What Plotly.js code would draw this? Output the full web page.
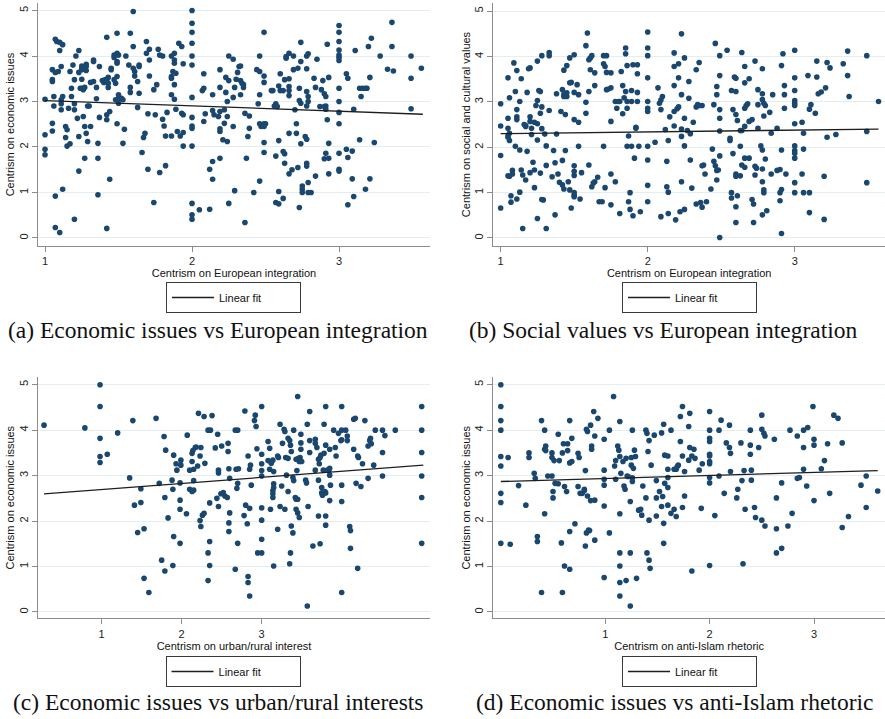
<!DOCTYPE html>
<html>
<head>
<meta charset="utf-8">
<script src="https://cdn.plot.ly/plotly-3.0.1.min.js"></script>
<style>
  html, body { margin: 0; padding: 0; background: #ffffff; }
  #chart { width: 885px; height: 719px; }
</style>
</head>
<body>
<div id="chart"></div>
<script>
// Tick values shared by the four panels
const yTickVals = [0, 1, 2, 3, 4, 5];
const xTickVals = [1, 2, 3];

// Axis titles and captions
const xTitles = [
  'Centrism on European integration',
  'Centrism on European integration',
  'Centrism on urban/rural interest',
  'Centrism on anti-Islam rhetoric'
];
const yTitles = [
  'Centrism on economic issues',
  'Centrism on social and cultural values',
  'Centrism on economic issues',
  'Centrism on economic issues'
];
const captions = [
  '(a) Economic issues vs European integration',
  '(b) Social values vs European integration',
  '(c) Economic issues vs urban/rural interests',
  '(d) Economic issues vs anti-Islam rhetoric'
];
const fitLabel = 'Linear fit';

// (a) economic issues (y) vs European integration (x)
const aPoints = [
  [1.00,3.05],[1.00,2.27],[1.00,1.95],[1.00,1.83],[1.05,3.44],[1.05,3.48],[1.05,2.52],[1.05,2.35],
  [1.05,3.70],[1.07,3.64],[1.06,3.11],[1.06,2.90],[1.07,0.92],[1.07,0.23],[1.10,0.12],[1.07,4.37],
  [1.08,4.32],[1.10,4.12],[1.10,4.30],[1.12,4.25],[1.11,3.77],[1.09,3.66],[1.11,3.04],[1.11,2.95],
  [1.11,2.82],[1.12,3.11],[1.12,1.07],[1.14,2.45],[1.15,2.38],[1.14,2.21],[1.15,2.02],[1.17,2.07],
  [1.17,3.66],[1.16,2.85],[1.18,3.11],[1.18,3.29],[1.19,3.80],[1.20,2.95],[1.20,2.82],[1.20,3.48],
  [1.20,0.41],[1.21,4.00],[1.23,4.12],[1.23,3.64],[1.22,2.63],[1.23,2.23],[1.23,1.47],[1.24,3.29],
  [1.25,3.29],[1.25,3.73],[1.25,3.49],[1.25,3.70],[1.25,3.78],[1.26,3.26],[1.27,3.31],[1.26,2.67],
  [1.27,2.45],[1.27,1.75],[1.28,2.30],[1.29,2.12],[1.28,3.77],[1.28,3.82],[1.28,3.68],[1.29,2.90],
  [1.30,2.90],[1.31,3.42],[1.31,2.45],[1.33,3.91],[1.33,3.88],[1.33,3.44],[1.35,3.06],[1.35,3.31],
  [1.36,2.08],[1.36,1.75],[1.36,0.95],[1.37,3.77],[1.37,2.65],[1.39,3.46],[1.40,3.42],[1.42,4.41],
  [1.42,2.71],[1.42,2.60],[1.42,0.21],[1.41,3.48],[1.42,3.44],[1.43,3.40],[1.43,3.31],[1.43,3.53],
  [1.45,3.73],[1.45,3.70],[1.44,2.78],[1.44,1.29],[1.47,4.02],[1.47,3.97],[1.47,3.48],[1.48,3.04],
  [1.48,3.40],[1.49,3.55],[1.49,4.06],[1.49,3.88],[1.49,3.84],[1.50,4.02],[1.49,4.50],[1.50,2.96],
  [1.49,2.51],[1.50,3.07],[1.50,3.15],[1.52,3.07],[1.53,3.04],[1.53,2.08],[1.54,2.39],[1.55,4.00],
  [1.57,3.80],[1.58,3.31],[1.58,4.50],[1.58,3.20],[1.60,4.98],[1.60,4.21],[1.60,3.73],[1.61,3.66],
  [1.61,3.56],[1.63,2.87],[1.63,3.44],[1.64,3.18],[1.64,3.80],[1.64,3.77],[1.66,1.88],[1.67,2.21],
  [1.68,2.30],[1.69,4.32],[1.69,4.06],[1.71,4.15],[1.71,3.91],[1.70,2.73],[1.70,1.51],[1.71,3.56],
  [1.74,3.26],[1.75,2.71],[1.76,3.37],[1.74,0.78],[1.77,4.15],[1.78,4.02],[1.80,4.00],[1.78,1.44],
  [1.80,2.61],[1.81,2.46],[1.82,2.24],[1.82,1.59],[1.83,2.76],[1.86,4.00],[1.86,3.55],[1.86,3.51],
  [1.87,3.66],[1.88,3.37],[1.86,3.15],[1.88,4.06],[1.88,3.91],[1.88,3.84],[1.89,3.62],[1.88,3.05],
  [1.86,2.24],[1.89,2.83],[1.90,2.34],[1.91,4.28],[1.92,2.24],[1.93,4.21],[1.93,2.74],[1.94,2.71],
  [1.94,2.32],[1.94,2.02],[1.94,3.83],
  [2.00,5.00],[2.00,4.72],[2.00,4.52],[2.00,4.28],[2.00,4.00],[2.00,3.80],[2.00,3.09],[2.00,2.65],
  [2.00,2.46],[2.00,2.41],[2.00,2.02],[2.00,0.76],[2.00,0.51],[2.00,0.41],
  [2.05,0.62],[2.07,3.24],[2.08,3.61],[2.08,2.56],[2.09,2.73],[2.08,3.29],[2.12,0.63],[2.12,1.51],
  [2.14,3.15],[2.14,1.68],[2.14,1.29],[2.15,2.71],[2.14,2.80],[2.19,3.70],[2.19,3.31],[2.19,1.75],
  [2.19,2.34],[2.18,2.67],[2.19,2.40],[2.19,2.78],[2.22,2.82],[2.21,2.16],[2.22,2.52],[2.23,3.20],
  [2.23,3.53],[2.24,2.12],[2.25,4.00],[2.25,0.76],[2.24,2.67],[2.24,3.00],[2.25,3.46],
  [2.28,3.93],[2.29,3.31],[2.28,3.09],[2.28,2.45],[2.29,1.04],[2.31,3.64],[2.32,3.77],[2.33,3.78],
  [2.30,3.49],[2.33,3.46],[2.34,3.40],[2.35,3.37],[2.35,3.31],[2.33,3.15],[2.36,2.74],[2.37,1.75],
  [2.36,0.34],[2.39,2.41],[2.38,2.23],[2.39,2.68],[2.42,1.00],[2.44,3.70],[2.45,2.95],[2.46,1.25],
  [2.46,4.00],[2.46,3.66],[2.46,3.15],[2.47,2.45],[2.46,2.51],[2.49,2.51],[2.49,2.45],[2.50,2.51],
  [2.49,4.52],[2.49,3.56],[2.49,3.42],[2.49,2.10],[2.49,1.88],[2.54,3.24],[2.55,3.24],[2.57,2.95],
  [2.56,2.90],[2.58,2.89],[2.57,1.80],[2.57,0.78],[2.59,0.75],[2.59,1.02],[2.60,3.61],[2.59,3.34],
  [2.59,2.14],[2.60,3.24],[2.62,3.24],[2.62,0.87],[2.62,1.90],[2.63,1.85],[2.63,3.48],[2.63,1.64],
  [2.64,3.95],[2.64,3.99],[2.66,4.06],[2.66,3.50],[2.66,3.33],[2.66,3.24],[2.66,3.13],[2.66,2.30],
  [2.66,1.41],[2.68,1.50],[2.69,4.00],[2.69,3.70],[2.70,2.82],[2.71,2.51],[2.71,2.30],[2.72,3.73],
  [2.72,1.55],[2.73,3.29],[2.73,3.02],[2.73,0.67],[2.74,4.30],[2.74,3.88],[2.74,2.96],[2.74,2.07],
  [2.75,1.14],[2.75,1.00],[2.75,1.07],[2.77,2.23],[2.78,2.17],[2.78,4.00],[2.78,3.72],[2.78,3.22],
  [2.79,4.05],[2.79,3.11],[2.79,3.00],[2.78,2.90],[2.78,1.64],[2.78,1.58],[2.79,1.22],[2.79,1.00],
  [2.81,1.00],[2.83,3.51],[2.84,3.31],[2.84,1.36],[2.85,3.93],[2.87,2.89],[2.88,3.26],[2.89,3.46],
  [2.90,1.74],[2.90,3.17],[2.90,2.89],[2.91,3.11],[2.91,2.90],[2.91,2.83],[2.91,1.86],[2.92,4.26],
  [2.92,2.60],[2.93,2.08],[2.93,1.75],[2.93,3.53],[2.93,1.41],
  [3.00,4.67],[3.00,4.52],[3.00,4.32],[3.00,4.13],[3.00,4.02],[3.00,3.97],[3.00,3.90],[3.00,3.29],
  [3.00,3.00],[3.00,2.76],[3.00,2.51],[3.00,1.86],[3.00,1.51],[3.00,1.47],
  [3.05,3.61],[3.06,3.51],[3.05,1.95],[3.06,1.77],[3.06,0.73],[3.09,1.91],[3.09,1.30],[3.10,2.83],
  [3.10,0.91],[3.11,4.12],[3.14,2.16],[3.14,3.29],[3.15,3.11],[3.16,3.29],[3.18,3.29],[3.18,1.07],
  [3.19,3.29],[3.20,4.21],[3.21,1.30],[3.21,3.53],[3.22,4.39],[3.24,2.10],[3.28,4.00],[3.33,3.71],
  [3.36,4.74],[3.36,4.21],[3.37,3.67],[3.49,4.00],[3.49,3.51],[3.49,2.84],[3.56,3.73]
];
const aFitX = [1.00, 3.57];
const aFitY = [3.02, 2.72];

// (b) social and cultural values (y) vs European integration (x)
const bPoints = [
  [1.00,2.96],[1.00,2.47],[1.00,1.82],[1.00,0.66],[1.05,3.53],[1.05,2.64],[1.06,3.09],[1.05,2.42],
  [1.05,2.25],[1.05,2.22],[1.06,2.31],[1.06,2.15],[1.05,1.37],[1.06,1.36],[1.07,0.93],[1.07,0.79],
  [1.08,1.49],[1.08,1.41],[1.09,3.86],[1.10,3.23],[1.11,3.69],[1.11,2.83],[1.11,2.67],[1.11,2.61],
  [1.10,2.02],[1.11,0.86],[1.13,1.94],[1.13,3.01],[1.13,1.01],[1.14,3.51],[1.14,1.50],[1.15,0.21],
  [1.15,1.39],[1.16,2.50],[1.17,2.46],[1.17,2.48],[1.17,1.28],[1.18,3.21],[1.18,1.91],[1.19,3.73],
  [1.20,3.75],[1.20,2.67],[1.20,2.57],[1.20,1.44],[1.21,2.42],[1.21,2.28],[1.22,1.67],[1.23,1.50],
  [1.23,2.55],[1.23,1.11],[1.24,2.92],[1.25,3.90],[1.25,2.16],[1.25,3.03],[1.25,2.52],[1.25,0.43],
  [1.26,3.25],[1.27,3.23],[1.27,2.75],[1.27,1.43],[1.28,4.02],[1.28,2.41],[1.28,2.89],[1.28,0.85],
  [1.29,0.84],[1.30,2.29],[1.31,2.03],[1.31,0.21],[1.31,1.60],[1.33,2.81],[1.33,4.09],[1.33,4.02],
  [1.35,1.35],[1.36,1.93],[1.37,0.51],[1.37,1.66],[1.38,2.29],[1.38,3.18],[1.39,1.41],[1.40,1.23],
  [1.41,2.79],[1.42,3.27],[1.42,1.17],[1.42,1.71],[1.43,1.08],[1.43,3.16],[1.43,3.70],[1.43,3.12],
  [1.44,2.72],[1.44,1.93],[1.45,3.12],[1.45,3.20],[1.45,3.80],[1.46,1.24],[1.47,3.97],[1.47,1.06],
  [1.47,3.42],[1.48,0.66],[1.48,3.43],[1.50,4.04],[1.50,1.59],[1.50,1.47],[1.50,1.38],[1.50,0.91],
  [1.50,2.61],[1.50,3.21],[1.50,1.00],[1.50,0.94],[1.52,3.38],[1.53,3.16],[1.53,2.55],[1.53,2.02],
  [1.54,0.86],[1.55,1.44],[1.58,2.75],[1.58,2.99],[1.58,4.24],[1.59,4.52],[1.60,1.61],[1.60,3.23],
  [1.60,3.93],[1.61,3.97],[1.61,3.71],[1.62,4.02],[1.62,1.13],[1.63,1.21],[1.64,3.64],[1.64,3.36],
  [1.64,1.24],[1.66,1.34],[1.67,0.80],[1.69,0.80],[1.70,4.02],[1.70,3.84],[1.70,2.02],[1.71,1.11],
  [1.71,3.78],[1.72,3.65],[1.72,4.02],[1.72,3.27],[1.73,3.28],[1.75,3.64],[1.75,2.57],[1.75,1.41],
  [1.75,0.73],[1.75,3.31],[1.78,3.01],[1.78,1.24],[1.79,2.86],[1.80,3.01],[1.81,3.01],[1.81,0.54],
  [1.82,3.67],[1.83,2.74],[1.83,3.36],[1.84,3.09],[1.85,3.23],[1.85,4.06],[1.85,4.19],[1.86,3.80],
  [1.86,2.86],[1.86,3.01],[1.86,2.02],[1.87,2.25],[1.87,0.80],[1.88,0.63],[1.88,1.00],[1.89,3.25],
  [1.89,3.01],[1.89,2.02],[1.90,3.82],[1.90,0.49],[1.91,1.76],[1.92,2.44],[1.92,2.42],[1.93,3.82],
  [1.93,3.62],[1.93,3.21],[1.93,3.01],[1.94,2.02],[1.95,0.58],
  [2.00,4.54],[2.00,4.19],[2.00,4.02],[2.00,3.53],[2.00,3.01],[2.00,2.86],[2.00,2.79],[2.00,2.02],
  [2.00,1.72],[2.00,1.16],[2.00,0.80],
  [2.05,2.11],[2.07,3.31],[2.08,2.97],[2.09,3.04],[2.09,2.83],[2.10,3.12],[2.09,0.47],[2.12,2.39],
  [2.13,1.13],[2.13,1.69],[2.14,2.15],[2.14,1.01],[2.14,0.54],[2.15,2.67],[2.18,4.08],[2.18,3.78],
  [2.18,3.36],[2.18,2.79],[2.18,2.47],[2.19,0.40],
  [2.21,3.53],[2.21,3.84],[2.23,4.50],[2.23,3.16],[2.23,2.40],[2.23,2.24],[2.23,1.24],[2.25,3.97],
  [2.25,2.64],[2.25,2.03],[2.25,0.63],[2.22,0.58],[2.20,2.85],[2.21,2.89],[2.27,2.37],[2.28,3.45],
  [2.28,3.08],[2.29,2.30],[2.29,1.72],[2.30,1.10],[2.31,2.55],[2.33,3.71],[2.33,0.75],[2.33,2.89],
  [2.34,2.94],[2.35,3.87],[2.35,2.92],[2.36,0.78],[2.37,1.59],[2.37,0.68],[2.37,2.92],[2.38,1.61],
  [2.39,1.41],[2.40,0.80],[2.43,1.08],[2.44,1.96],[2.45,2.94],[2.45,1.69],[2.46,1.59],[2.47,1.49],
  [2.47,1.28],[2.46,4.29],[2.47,3.34],[2.47,3.16],[2.48,1.50],[2.49,2.83],[2.49,2.64],[2.49,2.36],
  [2.49,1.81],[2.49,4.02],[2.49,3.58],[2.49,0.01],[2.54,4.14],[2.56,2.15],[2.56,2.20],[2.57,1.00],
  [2.57,0.88],[2.58,1.86],[2.57,3.25],[2.58,2.83],[2.59,3.55],[2.60,3.52],[2.60,3.23],[2.60,2.72],
  [2.60,1.41],[2.60,1.36],[2.60,0.69],[2.60,0.34],[2.61,0.93],[2.61,2.59],[2.63,2.37],[2.64,2.37],
  [2.63,1.37],[2.64,4.09],[2.63,2.02],[2.64,1.61],[2.66,1.56],[2.66,3.78],[2.66,3.42],[2.66,2.46],
  [2.66,2.86],[2.66,1.76],[2.67,2.92],[2.68,2.96],[2.69,1.76],[2.69,3.51],[2.69,2.57],[2.71,2.61],
  [2.71,0.85],[2.72,0.75],[2.72,0.34],[2.73,3.90],[2.73,1.58],[2.73,1.39],[2.74,1.54],[2.75,3.27],
  [2.75,2.42],[2.75,2.94],[2.77,2.03],[2.78,1.94],[2.78,3.73],[2.78,3.18],[2.78,3.05],[2.79,2.97],
  [2.79,2.69],[2.78,1.52],[2.78,1.24],[2.79,1.06],[2.79,1.00],[2.78,0.51],[2.80,2.92],[2.80,1.74],
  [2.81,0.60],[2.83,2.77],[2.84,2.31],[2.84,1.41],[2.85,3.16],[2.88,1.49],[2.88,2.42],[2.90,1.51],
  [2.90,0.82],[2.90,1.00],[2.91,3.80],[2.91,1.94],[2.91,0.10],[2.91,1.07],[2.92,4.06],[2.93,2.86],
  [2.93,3.16],[2.93,3.36],[2.94,1.41],
  [3.00,4.14],[3.00,3.53],[3.00,3.25],[3.00,3.03],[3.00,2.97],[3.00,2.92],[3.00,2.52],[3.00,2.03],
  [3.00,1.93],[3.00,1.87],[3.00,1.76],[3.00,1.22],[3.00,1.00],
  [3.05,1.41],[3.05,2.55],[3.06,2.31],[3.06,1.96],[3.06,1.00],[3.09,3.58],[3.10,2.84],[3.10,1.00],
  [3.10,0.56],[3.11,2.94],[3.14,2.75],[3.15,3.90],[3.15,3.55],[3.16,3.18],[3.18,3.22],[3.20,1.36],
  [3.20,0.41],[3.21,3.31],[3.22,2.22],[3.22,3.87],[3.24,3.75],[3.28,2.28],[3.33,3.84],[3.36,4.12],
  [3.36,3.58],[3.37,3.12],[3.49,4.02],[3.49,2.35],[3.49,1.22],[3.57,3.01]
];
const bFitX = [1.00, 3.57];
const bFitY = [2.30, 2.40];

// (c) economic issues (y) vs urban/rural interest (x)
const cPoints = [
  [0.28,4.11],[0.79,4.05],[0.98,5.00],[0.98,4.52],[0.98,3.82],[0.98,3.42],[0.98,3.29],[1.07,3.47],
  [1.20,3.94],[1.35,2.95],[1.39,4.21],[1.41,2.35],[1.45,1.75],[1.49,2.71],[1.49,2.41],[1.53,0.74],
  [1.53,1.83],[1.59,0.43],[1.68,4.26],[1.72,2.83],[1.75,1.14],[1.78,3.86],[1.79,2.52],[1.79,0.90],
  [1.80,3.56],[1.83,2.07],[1.89,1.02],[1.90,1.66],[1.89,2.70],[1.88,2.90],[1.90,3.45],[1.93,3.26],
  [1.94,3.12],[1.99,3.34],[1.99,3.23],[1.98,2.84],[1.98,2.46],[1.98,2.26],[1.98,1.51],[2.06,2.16],
  [2.07,3.89],[2.10,3.12],[2.10,2.70],[2.13,2.65],[2.15,2.68],[2.13,3.31],[2.13,3.49],[2.14,3.55],
  [2.15,3.14],[2.15,2.89],[2.17,3.62],[2.18,3.63],[2.21,4.37],[2.20,3.21],[2.23,2.01],[2.24,1.88],
  [2.24,3.62],[2.23,3.43],[2.26,2.13],[2.28,2.17],[2.28,4.30],[2.29,3.27],[2.33,4.00],[2.33,1.30],
  [2.33,0.69],[2.35,1.02],[2.35,1.55],[2.36,4.00],[2.35,2.40],[2.38,4.32],[2.42,3.61],[2.44,2.50],
  [2.45,3.91],[2.46,3.12],[2.46,3.06],[2.46,2.32],[2.49,2.60],[2.50,3.65],[2.52,2.63],[2.54,2.55],
  [2.58,3.71],[2.58,3.53],[2.59,3.15],[2.60,2.18],[2.59,1.96],[2.59,1.77],[2.57,2.52],[2.60,2.94],
  [2.67,4.00],[2.70,4.00],[2.68,3.14],[2.71,3.15],[2.70,2.83],[2.69,2.72],[2.70,1.51],[2.67,0.94],
  [2.79,4.42],[2.80,2.35],[2.78,2.12],[2.82,1.94],[2.83,3.43],[2.85,3.14],[2.86,3.23],[2.87,2.79],
  [2.85,2.28],[2.83,0.78],[2.83,0.65],[2.85,0.35],[2.91,4.21],[2.92,4.33],[2.93,4.08],[2.94,3.59],
  [2.95,1.30],[3.00,1.30],[3.00,4.52],[3.00,3.47],[3.00,3.26],[3.00,3.11],[3.00,2.99],[3.00,2.29],
  [3.00,2.02],[3.00,1.60],[3.08,3.75],[3.10,3.60],[3.08,3.33],[3.10,3.14],[3.11,2.26],[3.12,3.27],
  [3.14,3.34],[3.15,2.82],[3.15,2.74],[3.14,2.67],[3.14,2.60],[3.14,2.52],[3.15,3.09],[3.15,1.01],
  [3.20,3.43],[3.20,1.82],[3.21,3.40],[3.23,4.13],[3.23,2.32],[3.25,2.77],[3.26,3.71],[3.28,4.02],
  [3.29,3.97],[3.29,2.26],[3.30,3.40],[3.31,3.01],[3.33,3.38],[3.33,2.65],[3.33,3.82],[3.35,1.06],
  [3.35,3.77],[3.36,3.67],[3.36,1.30],[3.37,3.53],[3.37,1.89],[3.39,1.74],[3.40,4.00],[3.39,2.96],
  [3.40,2.89],[3.42,2.52],[3.43,3.36],[3.43,2.48],[3.45,4.74],[3.44,3.11],[3.45,2.48],[3.43,2.26],
  [3.45,2.18],[3.46,3.38],[3.47,2.08],[3.47,3.31],[3.48,3.40],[3.49,3.91],[3.49,3.72],[3.49,3.58],
  [3.50,3.31],[3.55,2.90],[3.56,2.84],[3.57,4.13],[3.57,0.13],[3.58,2.32],[3.60,4.41],[3.60,3.77],
  [3.60,3.51],[3.64,1.45],[3.67,3.80],[3.67,3.71],[3.67,3.12],[3.69,3.62],[3.71,3.36],[3.71,2.90],
  [3.71,2.11],[3.72,3.26],[3.73,3.40],[3.73,1.50],[3.74,3.45],[3.75,2.74],[3.75,2.62],[3.76,2.57],
  [3.77,3.12],[3.78,3.49],[3.78,4.13],[3.79,2.65],[3.80,4.52],[3.80,3.67],[3.80,2.62],[3.80,2.11],
  [3.80,1.91],[3.82,3.12],[3.84,3.12],[3.85,3.58],[3.85,3.16],[3.85,3.01],[3.86,2.79],[3.85,2.45],
  [3.90,4.00],[3.92,3.62],[3.93,3.43],[3.96,3.93],[3.99,3.77],[4.00,4.00],[4.00,4.52],[4.00,3.79],
  [4.00,2.79],[4.00,2.43],[4.00,0.43],[4.05,4.00],[4.07,3.87],[4.07,3.77],[4.10,1.88],[4.11,1.79],
  [4.11,1.40],[4.15,3.58],[4.15,4.24],[4.17,4.26],[4.18,2.83],[4.20,3.43],[4.21,3.40],[4.20,0.96],
  [4.24,2.76],[4.26,3.26],[4.29,4.21],[4.33,2.94],[4.33,3.65],[4.35,3.77],[4.36,3.82],[4.37,3.70],
  [4.40,3.23],[4.42,4.00],[4.51,4.00],[4.51,3.51],[4.51,2.99],[4.54,3.88],[4.67,4.00],
  [5.00,4.52],[5.00,4.00],[5.00,3.51],[5.00,2.99],[5.00,2.52],[5.00,1.51]
];
const cFitX = [0.28, 5.02];
const cFitY = [2.60, 3.23];

// (d) economic issues (y) vs anti-Islam rhetoric (x)
const dPoints = [
  [0.00,5.00],[0.00,4.52],[0.00,4.21],[0.00,4.00],[0.00,3.42],[0.00,3.21],[0.00,2.61],[0.00,2.41],
  [0.00,1.51],[0.07,3.40],[0.09,1.49],[0.17,2.78],[0.24,2.35],[0.27,3.50],[0.27,3.40],[0.32,3.05],
  [0.33,2.94],[0.35,1.66],[0.35,1.55],[0.39,4.21],[0.39,0.43],[0.42,4.00],[0.42,3.58],[0.42,2.16],
  [0.43,3.65],[0.43,3.55],[0.45,2.99],[0.49,2.99],[0.49,3.50],[0.49,3.40],[0.50,2.65],[0.50,2.51],
  [0.51,3.33],[0.52,2.83],[0.55,3.91],[0.55,2.82],[0.56,3.33],[0.58,1.52],[0.59,3.50],[0.59,0.43],
  [0.60,3.70],[0.61,2.76],[0.61,1.01],[0.63,2.65],[0.64,3.55],[0.64,3.70],[0.66,4.21],[0.66,1.77],
  [0.66,0.94],[0.66,3.28],[0.68,3.31],[0.68,3.82],[0.71,1.94],[0.74,3.49],[0.75,3.40],[0.74,2.76],
  [0.76,2.61],[0.78,2.61],[0.80,2.70],[0.80,2.67],[0.82,4.02],[0.81,3.11],[0.81,1.45],[0.82,1.74],
  [0.83,3.97],[0.83,2.55],[0.84,1.80],[0.85,1.79],[0.86,4.11],[0.87,3.65],[0.87,3.58],[0.86,2.45],
  [0.89,4.41],[0.90,3.87],[0.90,2.46],[0.90,1.58],[0.93,4.26],[0.99,3.80],[0.99,3.12],[0.99,2.92],
  [0.99,2.79],[0.99,2.33],[0.99,0.76],[1.04,4.00],[1.04,1.74],[1.08,4.74],[1.10,3.33],[1.09,3.21],
  [1.10,2.92],[1.12,3.65],[1.13,3.56],[1.14,4.19],[1.14,3.42],[1.14,2.16],[1.14,1.30],[1.14,1.01],
  [1.14,0.65],[1.14,0.35],[1.15,3.05],[1.17,3.31],[1.18,2.77],[1.19,2.70],[1.20,3.38],[1.21,2.99],
  [1.20,0.69],[1.22,2.98],[1.24,2.43],[1.24,1.30],[1.24,0.13],[1.25,3.23],[1.25,3.40],[1.26,4.00],
  [1.26,2.95],[1.26,2.87],[1.27,3.16],[1.28,3.56],[1.29,3.42],[1.30,0.74],[1.32,2.24],[1.34,2.26],
  [1.36,2.77],[1.35,2.13],[1.39,4.00],[1.40,3.93],[1.41,3.53],[1.39,2.51],[1.40,1.30],[1.42,1.14],
  [1.43,0.96],[1.42,2.02],[1.42,3.77],[1.44,3.23],[1.49,2.11],[1.49,2.89],[1.49,2.51],[1.47,3.89],
  [1.52,2.65],[1.54,3.94],[1.54,2.32],[1.55,2.54],[1.56,1.95],[1.56,1.51],[1.56,4.13],[1.57,2.83],
  [1.57,3.45],[1.60,3.43],[1.60,3.14],[1.60,2.96],[1.60,2.74],[1.60,2.35],[1.63,4.00],[1.63,2.17],
  [1.66,3.14],[1.66,2.26],[1.68,2.10],[1.68,3.14],[1.69,3.20],[1.70,3.23],[1.72,4.30],[1.72,3.75],
  [1.74,4.52],[1.74,3.43],[1.74,2.30],[1.76,3.09],[1.76,2.55],[1.80,4.08],[1.81,4.37],[1.81,3.62],
  [1.80,3.34],[1.83,3.43],[1.85,3.58],[1.86,3.38],[1.83,0.90],[1.90,3.12],[1.92,2.28],[1.93,3.26],
  [2.00,4.41],[2.00,4.00],[2.00,3.82],[2.00,3.75],[2.00,3.47],[2.00,3.43],[2.00,3.31],[2.00,3.26],
  [2.00,2.96],[2.00,2.84],[2.00,1.02],[2.05,2.12],[2.09,4.00],[2.09,2.99],[2.11,4.22],[2.14,2.61],
  [2.16,3.72],[2.19,4.11],[2.19,3.62],[2.20,3.49],[2.20,3.09],[2.26,2.51],[2.27,2.70],[2.30,3.72],
  [2.31,2.89],[2.32,1.06],[2.33,3.11],[2.34,2.26],[2.39,4.00],[2.39,3.67],[2.39,3.47],[2.40,3.12],
  [2.40,2.90],[2.43,2.30],[2.44,2.08],[2.47,3.62],[2.50,4.33],[2.50,2.02],[2.50,4.02],[2.52,3.93],
  [2.53,3.87],[2.53,1.89],[2.62,3.80],[2.64,2.51],[2.64,1.83],[2.64,1.30],[2.69,2.84],[2.69,1.40],
  [2.75,1.89],[2.77,4.00],[2.79,2.17],[2.84,3.87],[2.84,2.94],[2.86,2.96],[2.90,3.62],[2.90,3.14],
  [2.93,2.77],[2.90,4.00],[2.94,4.06],[2.99,4.52],[3.00,3.80],[3.00,3.67],[3.00,2.45],[3.07,3.15],
  [3.10,3.33],[3.13,3.70],[3.15,2.61],[3.19,4.33],[3.23,4.26],[3.27,3.72],[3.27,1.86],[3.33,2.10],
  [3.45,2.79],[3.50,2.99],[3.50,2.30],[3.61,2.66]
];
const dFitX = [0.00, 3.61];
const dFitY = [2.87, 3.11];

const navy = '#1a476f';
const axisGray = '#8c8c8c';
const sans = 'Liberation Sans, Arial, sans-serif';

function pointsTrace(points, axId) {
  return {
    type: 'scatter', mode: 'markers',
    x: points.map(p => p[0]), y: points.map(p => p[1]),
    xaxis: 'x' + axId, yaxis: 'y' + axId,
    marker: { color: navy, size: 5.6, line: { width: 0 } },
    showlegend: false, hoverinfo: 'x+y'
  };
}
function fitTrace(fx, fy, axId, legendId) {
  return {
    type: 'scatter', mode: 'lines',
    x: fx, y: fy,
    xaxis: 'x' + axId, yaxis: 'y' + axId,
    line: { color: '#1e1e1e', width: 1.3 },
    name: fitLabel, showlegend: true, legend: legendId
  };
}

const traces = [
  pointsTrace(aPoints, ''), fitTrace(aFitX, aFitY, '', 'legend'),
  pointsTrace(bPoints, '2'), fitTrace(bFitX, bFitY, '2', 'legend2'),
  pointsTrace(cPoints, '3'), fitTrace(cFitX, cFitY, '3', 'legend3'),
  pointsTrace(dPoints, '4'), fitTrace(dFitX, dFitY, '4', 'legend4')
];

function xAxis(domain, range, title, anchor) {
  return {
    domain: domain, range: range, anchor: anchor,
    tickmode: 'array', tickvals: xTickVals,
    showline: true, linecolor: axisGray, linewidth: 1,
    ticks: 'outside', ticklen: 5, tickcolor: axisGray, tickwidth: 1,
    tickfont: { family: sans, size: 11, color: '#222' },
    showgrid: false, zeroline: false, fixedrange: true,
    title: { text: title, font: { family: sans, size: 11, color: '#111' }, standoff: 1 }
  };
}
function yAxis(domain, range, title, anchor) {
  return {
    domain: domain, range: range, anchor: anchor,
    tickmode: 'array', tickvals: yTickVals, tickangle: -90,
    showline: true, linecolor: axisGray, linewidth: 1,
    ticks: 'outside', ticklen: 5, tickcolor: axisGray, tickwidth: 1,
    tickfont: { family: sans, size: 11, color: '#222' },
    showgrid: true, gridcolor: '#e4eef0', gridwidth: 1,
    zeroline: false, fixedrange: true,
    title: { text: title, font: { family: sans, size: 11, color: '#111' }, standoff: 0 }
  };
}
function legendBox(x, y) {
  return {
    x: x, y: y, xanchor: 'center', yanchor: 'top',
    orientation: 'h', itemwidth: 42, entrywidth: 76,
    bgcolor: '#ffffff', bordercolor: '#3a3a3a', borderwidth: 1,
    font: { family: sans, size: 11, color: '#111' }
  };
}
function caption(text, x, y) {
  return {
    text: text, xref: 'paper', yref: 'paper', x: x, y: y,
    xanchor: 'center', yanchor: 'middle', showarrow: false,
    font: { family: 'Liberation Serif, Times New Roman, serif', size: 23.5, color: '#111' }
  };
}

const topY = [0.6579, 0.9958];
const botY = [0.1398, 0.4757];
const leftX = [0.0429, 0.4859];
const rightX = [0.5574, 1.0];

const layout = {
  width: 885, height: 719,
  margin: { l: 0, r: 0, t: 0, b: 0 },
  paper_bgcolor: '#ffffff', plot_bgcolor: '#ffffff',
  showlegend: true,
  xaxis:  xAxis(leftX,  [0.952, 3.619], xTitles[0], 'y'),
  yaxis:  yAxis(topY,   [-0.176, 5.165], yTitles[0], 'x'),
  xaxis2: xAxis(rightX, [0.950, 3.614], xTitles[1], 'y2'),
  yaxis2: yAxis(topY,   [-0.176, 5.18], yTitles[1], 'x2'),
  xaxis3: xAxis(leftX,  [0.204, 5.104], xTitles[2], 'y3'),
  yaxis3: yAxis(botY,   [-0.143, 5.17], yTitles[2], 'x3'),
  xaxis4: xAxis(rightX, [-0.072, 3.68], xTitles[3], 'y4'),
  yaxis4: yAxis(botY,   [-0.143, 5.17], yTitles[3], 'x4'),
  legend:  legendBox(0.2638, 0.6078),
  legend2: legendBox(0.7791, 0.6078),
  legend3: legendBox(0.2633, 0.0876),
  legend4: legendBox(0.7791, 0.0876),
  annotations: [
    caption(captions[0], 0.2463, 0.541),
    caption(captions[1], 0.7497, 0.541),
    caption(captions[2], 0.2463, 0.0236),
    caption(captions[3], 0.7627, 0.0236)
  ]
};

Plotly.newPlot('chart', traces, layout, { displayModeBar: false, staticPlot: true });
</script>
</body>
</html>
